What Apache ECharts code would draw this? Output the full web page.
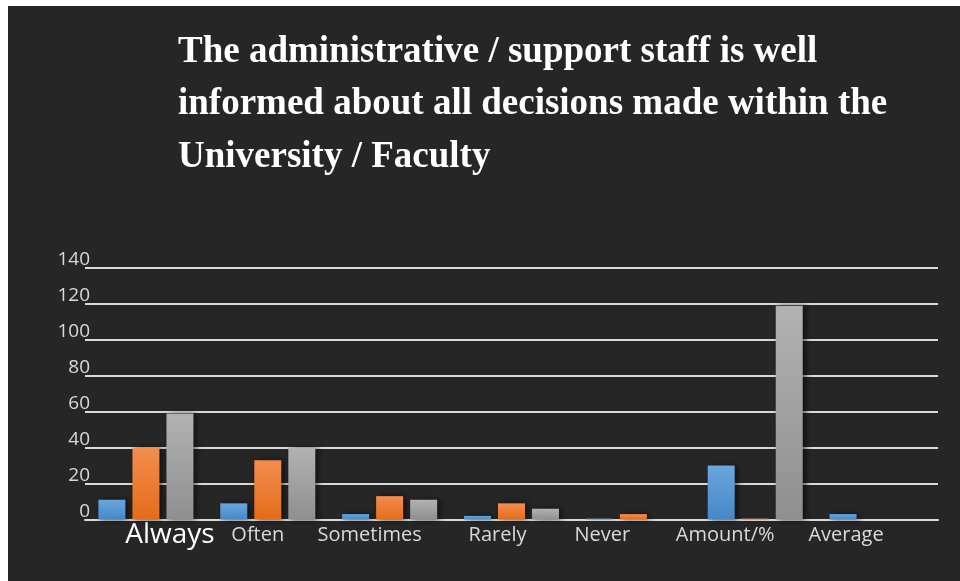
<!DOCTYPE html>
<html>
<head>
<meta charset="utf-8">
<script src="https://cdn.jsdelivr.net/npm/echarts@6/dist/echarts.min.js"></script>
<style>
html,body{margin:0;padding:0;background:#ffffff;}
#chart{width:960px;height:581px;}
</style>
</head>
<body>
<div id="chart"></div>
<script>
var titleText = 'The administrative / support staff is well\ninformed about all decisions made within the\nUniversity / Faculty';
var categories = ['Always', 'Often', 'Sometimes', 'Rarely', 'Never', 'Amount/%', 'Average'];
var series1 = [11, 9, 3, 2, 0.5, 30, 3];
var series2 = [40, 33, 13, 9, 3, 0.5, 0];
var series3 = [59, 40, 11, 6, 0, 119, 0];
var yTicks = [0, 20, 40, 60, 80, 100, 120, 140];

var labelShift = [24, -10, -20, -14, -31, -30, -31];

function grad(top, bottom) {
  return new echarts.graphic.LinearGradient(0, 0, 0, 1, [
    {offset: 0, color: top}, {offset: 1, color: bottom}
  ]);
}

var rich = {};
labelShift.forEach(function (s, i) {
  var left = s >= 0 ? 2 * s : 0;
  var right = s < 0 ? -2 * s : 0;
  var big = i === 0;
  rich['c' + i] = {
    fontSize: big ? 28 : 20,
    lineHeight: big ? 28 : 20,
    color: big ? '#ffffff' : '#d9d9d9',
    fontFamily: 'Open Sans',
    padding: big ? [4, right, 0, left] : [11, right, 0, left]
  };
});

var chart = echarts.init(document.getElementById('chart'));
var barStyle = {shadowBlur: 6, shadowColor: 'rgba(0,0,0,0.6)', shadowOffsetX: 3, shadowOffsetY: 0};
chart.setOption({
  backgroundColor: '#ffffff',
  animation: false,
  graphic: [{
    type: 'rect', z: -10, silent: true,
    shape: {x: 8, y: 6, width: 952, height: 575},
    style: {fill: '#262626'}
  }],
  title: {
    text: titleText,
    left: 178, top: 26, padding: 0,
    textStyle: {
      color: '#ffffff', fontFamily: 'Liberation Serif', fontWeight: 'bold',
      fontSize: 37, lineHeight: 52.5
    }
  },
  grid: {left: 85, right: 22, top: 268, bottom: 61.5, containLabel: false},
  xAxis: {
    type: 'category',
    data: categories,
    axisLine: {show: true, lineStyle: {color: '#d9d9d9', width: 2}},
    axisTick: {show: false},
    axisLabel: {
      margin: 0,
      interval: 0,
      formatter: function (v) {
        var i = categories.indexOf(v);
        return '{c' + i + '|' + v + '}';
      },
      rich: rich
    }
  },
  yAxis: {
    type: 'value',
    min: yTicks[0], max: yTicks[yTicks.length - 1], interval: 20,
    axisLine: {show: false},
    axisTick: {show: false},
    axisLabel: {
      color: '#d9d9d9', fontSize: 19, lineHeight: 16, fontFamily: 'Open Sans',
      margin: -5, verticalAlign: 'bottom'
    },
    splitLine: {lineStyle: {color: '#d9d9d9', width: 2}}
  },
  series: [
    {name: 'Series 1', type: 'bar', data: series1, barWidth: 27, barGap: '26%',
      itemStyle: Object.assign({color: grad('#6aa6de', '#4588c8')}, barStyle)},
    {name: 'Series 2', type: 'bar', data: series2, barWidth: 27, barGap: '26%',
      itemStyle: Object.assign({color: grad('#f38d50', '#e46c1a')}, barStyle)},
    {name: 'Series 3', type: 'bar', data: series3, barWidth: 27, barGap: '26%',
      itemStyle: Object.assign({color: grad('#b2b2b2', '#8f8f8f')}, barStyle)}
  ]
});
</script>
</body>
</html>
